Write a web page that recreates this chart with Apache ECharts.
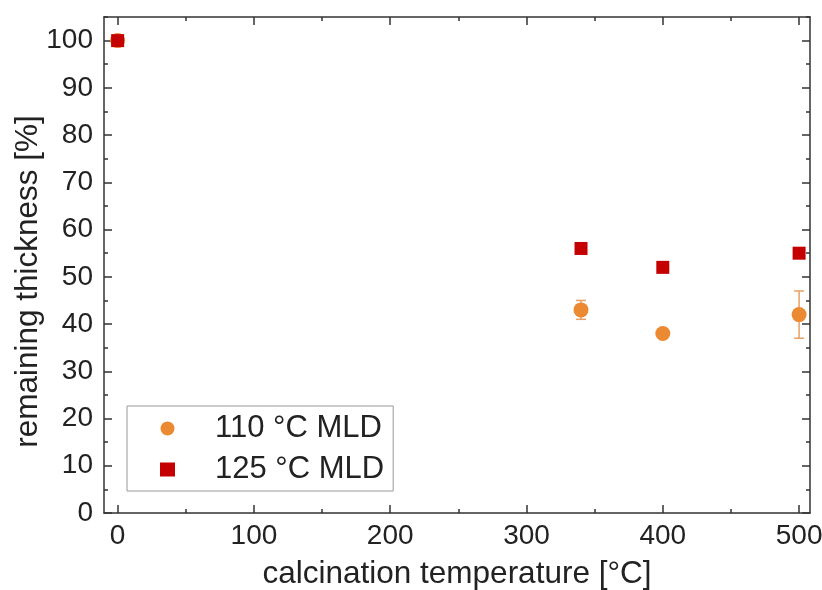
<!DOCTYPE html>
<html>
<head>
<meta charset="utf-8">
<script src="https://cdn.jsdelivr.net/npm/echarts@6/dist/echarts.min.js"></script>
<style>
html,body{margin:0;padding:0;background:#fff;}
#chart{width:822px;height:590px;}
</style>
</head>
<body>
<div id="chart"></div>
<script>
// ---- data ----
var seriesNames = ['110 °C MLD', '125 °C MLD'];
var temp110 = [0, 340, 400, 500];
var thick110 = [100, 43, 38, 42];
var err110 = [0, 2, 0, 5];
var temp125 = [0, 340, 400, 500];
var thick125 = [100, 56, 52, 55];
var xMajorTicks = [0, 100, 200, 300, 400, 500];
var xMinorTicks = [50, 150, 250, 350, 450];
var yMajorTicks = [0, 10, 20, 30, 40, 50, 60, 70, 80, 90, 100];
var yMinorTicks = [5, 15, 25, 35, 45, 55, 65, 75, 85, 95, 105];
var xTitle = 'calcination temperature [°C]';
var yTitle = 'remaining thickness [%]';

var ORANGE = '#EC8A33';
var RED = '#C40000';
var AXIS = '#333333';
var FONT = '"Liberation Sans", Arial, sans-serif';

var chart = echarts.init(document.getElementById('chart'), null, {renderer: 'canvas'});

function mkAxis(kind, pos, ticks, len, opts) {
  var a = {
    type: 'value',
    position: pos,
    min: kind === 'x' ? -10 : 0,
    max: kind === 'x' ? 508 : 105,
    splitLine: {show: false},
    axisLine: {show: !!opts.line, onZero: false, lineStyle: {color: AXIS, width: 1.5}},
    axisTick: {show: true, inside: true, length: len, customValues: ticks, lineStyle: {color: AXIS, width: 1.5}},
    axisLabel: {show: false}
  };
  if (opts.labels) {
    a.axisLabel = {show: true, customValues: ticks, color: '#222', fontSize: 28, fontFamily: FONT, margin: kind === 'x' ? 9 : 11};
  }
  if (opts.name) {
    a.name = opts.name;
    a.nameLocation = 'middle';
    a.nameMoveOverlap = false;
    a.nameGap = kind === 'x' ? 45 : 60;
    a.nameTextStyle = {color: '#222', fontSize: 31.5, fontFamily: FONT};
    if (kind === 'y') a.nameTextStyle.padding = [0, 33, 0, 0];
  }
  return a;
}

var xAxes = [
  mkAxis('x', 'bottom', xMajorTicks, 8, {line: true, labels: true, name: xTitle}),
  mkAxis('x', 'bottom', xMinorTicks, 4, {}),
  mkAxis('x', 'top', xMajorTicks, 8, {line: true}),
  mkAxis('x', 'top', xMinorTicks, 4, {})
];
var yAxes = [
  mkAxis('y', 'left', yMajorTicks, 8, {line: true, labels: true, name: yTitle}),
  mkAxis('y', 'left', yMinorTicks, 4, {}),
  mkAxis('y', 'right', yMajorTicks, 8, {line: true}),
  mkAxis('y', 'right', yMinorTicks, 4, {})
];

var d110 = temp110.map(function (t, i) { return [t, thick110[i]]; });
var d125 = temp125.map(function (t, i) { return [t, thick125[i]]; });
var dErr = [];
temp110.forEach(function (t, i) { if (err110[i] > 0) dErr.push([t, thick110[i] - err110[i], thick110[i] + err110[i]]); });

var option = {
  backgroundColor: '#ffffff',
  animation: false,
  grid: {left: 104, right: 12, top: 17, bottom: 77, containLabel: false, outerBoundsMode: 'none'},
  xAxis: xAxes,
  yAxis: yAxes,
  legend: {
    orient: 'vertical',
    left: 127,
    top: 406,
    padding: [7, 9, 6, 33],
    itemWidth: 15,
    itemHeight: 14,
    itemGap: 10,
    borderColor: '#999',
    borderWidth: 1,
    borderRadius: 0,
    data: [
      {name: seriesNames[0], icon: 'circle'},
      {name: seriesNames[1], icon: 'rect'}
    ],
    textStyle: {color: '#222', fontSize: 31, fontFamily: FONT, padding: [0, 0, 0, 35], lineHeight: 31}
  },
  series: [
    {
      type: 'custom',
      name: 'err',
      xAxisIndex: 0, yAxisIndex: 0,
      data: dErr,
      z: 1,
      renderItem: function (params, api) {
        var x = api.value(0);
        var lo = api.coord([x, api.value(1)]);
        var hi = api.coord([x, api.value(2)]);
        var cap = 5;
        var st = {stroke: '#E9A064', lineWidth: 1.5, fill: null};
        return {type: 'group', children: [
          {type: 'line', shape: {x1: lo[0], y1: lo[1], x2: hi[0], y2: hi[1]}, style: st},
          {type: 'line', shape: {x1: lo[0] - cap, y1: lo[1], x2: lo[0] + cap, y2: lo[1]}, style: st},
          {type: 'line', shape: {x1: hi[0] - cap, y1: hi[1], x2: hi[0] + cap, y2: hi[1]}, style: st}
        ]};
      },
      encode: {x: 0, y: [1, 2]}
    },
    {
      type: 'scatter', name: seriesNames[0],
      xAxisIndex: 0, yAxisIndex: 0,
      data: d110, symbol: 'circle', symbolSize: 15, z: 2,
      itemStyle: {color: ORANGE, opacity: 1}
    },
    {
      type: 'scatter', name: seriesNames[1],
      xAxisIndex: 0, yAxisIndex: 0,
      data: d125, symbol: 'rect', symbolSize: 13, z: 3,
      itemStyle: {color: RED, opacity: 1}
    }
  ]
};
chart.setOption(option);
</script>
</body>
</html>
